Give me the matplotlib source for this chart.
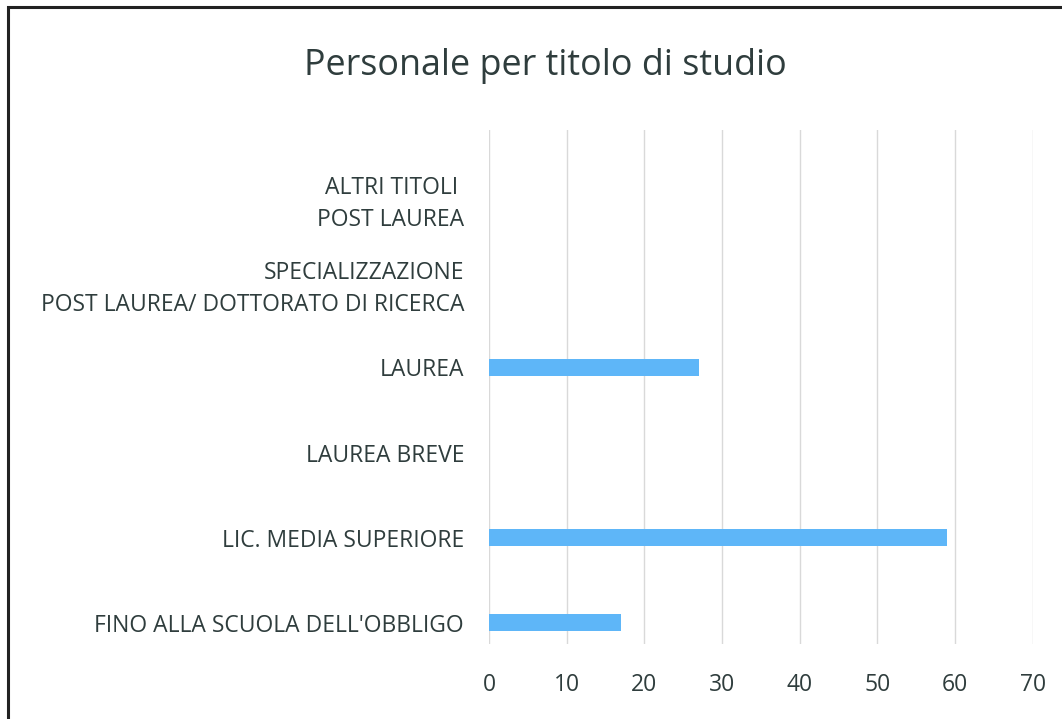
import matplotlib
matplotlib.use("Agg")
import matplotlib.pyplot as plt
from matplotlib.patches import Rectangle

categories = [
    "FINO ALLA SCUOLA DELL'OBBLIGO",
    "LIC. MEDIA SUPERIORE",
    "LAUREA BREVE",
    "LAUREA",
    "SPECIALIZZAZIONE\nPOST LAUREA/ DOTTORATO DI RICERCA",
    "ALTRI TITOLI \nPOST LAUREA",
]
values = [17, 59, 0, 27, 0, 0]
x_ticks = [0, 10, 20, 30, 40, 50, 60, 70]

TEXT = "#2f3d3d"
BAR = "#5eb6f8"

plt.rcParams["font.family"] = ["Open Sans", "DejaVu Sans"]

fig = plt.figure(figsize=(10.62, 7.19), dpi=100)
ax = fig.add_axes([0.4605, 1 - 644 / 719, 0.512, (644 - 130) / 719])

ax.barh(range(len(categories)), values, height=0.2, color=BAR)
ax.set_ylim(-0.25, 5.79)
ax.set_xlim(0, 70)
ax.set_xticks(x_ticks)
ax.set_yticks(range(len(categories)))
ax.set_yticklabels(categories, linespacing=1.45)
ax.tick_params(axis="both", length=0, colors=TEXT, labelsize=16.5)
ax.tick_params(axis="x", pad=21, labelsize=16.5)
ax.tick_params(axis="y", pad=18)
ax.grid(axis="x", color="#d9d9d9", linewidth=1)
ax.set_axisbelow(True)
for s in ax.spines.values():
    s.set_visible(False)

fig.text(0.514, 1 - 66 / 719, "Personale per titolo di studio", ha="center", va="center",
         fontsize=25.8, color=TEXT)

# frame cut off at the right and bottom edges
fig.patches.append(Rectangle((8 / 1062, -0.5), 2.0, 1.5 - 7 / 719, transform=fig.transFigure,
                             fill=False, edgecolor="#222222", linewidth=2.2))

fig.savefig("out.png", dpi=100)
